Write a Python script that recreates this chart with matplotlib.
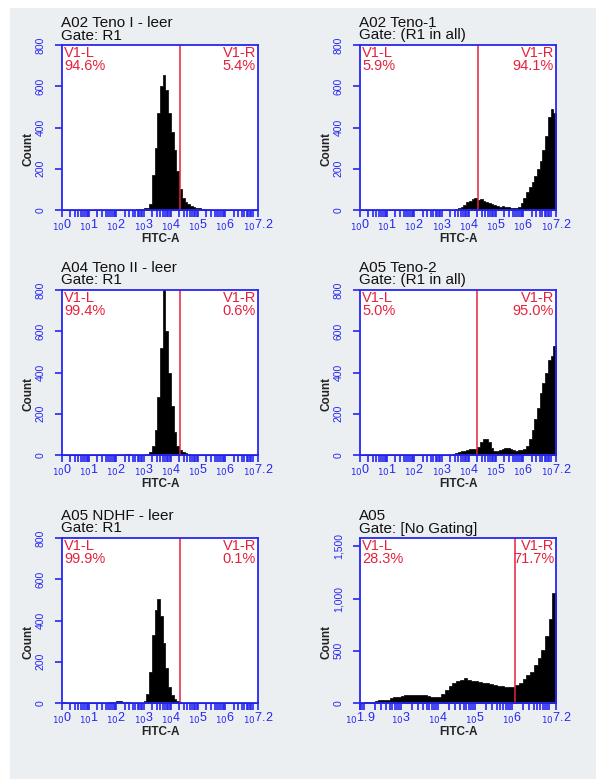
import numpy as np
import matplotlib
matplotlib.use('Agg')
import matplotlib.pyplot as plt
from matplotlib.patches import Rectangle

# ---------------- data ----------------
titles = ["A02 Teno I - leer", "A02 Teno-1", "A04 Teno II - leer",
          "A05 Teno-2", "A05 NDHF - leer", "A05"]
gate_names = ["Gate: R1", "Gate: (R1 in all)", "Gate: R1",
              "Gate: (R1 in all)", "Gate: R1", "Gate: [No Gating]"]
pct_left = ["94.6%", "5.9%", "99.4%", "5.0%", "99.9%", "28.3%"]
pct_right = ["5.4%", "94.1%", "0.6%", "95.0%", "0.1%", "71.7%"]
gate_log = [4.33, 4.32, 4.33, 4.30, 4.35, 6.08]

# counts per 0.1-decade bin, log10(FITC-A) from 0.0 to 7.2 (72 bins)
teno_i_leer = [0]*27 + [3, 4, 5, 8, 12, 30, 170, 300, 470, 600, 655, 580, 470,
                        380, 290, 190, 100, 60, 40, 28, 20, 15, 11, 9, 6, 4, 2] + [0]*18
teno_1 = [0]*35 + [3, 8, 15, 25, 38, 45, 55, 58, 50, 52, 45, 40, 35, 28, 22, 20,
                   15, 18, 14, 15, 12, 10, 8, 15, 35, 60, 85, 110, 135, 165, 200,
                   240, 290, 360, 450, 490, 470]
teno_ii_leer = [0]*23 + [3, 4, 2, 0, 0, 0, 0, 2, 5, 15, 45, 120, 280, 520, 800,
                         600, 400, 240, 110, 45, 25, 15, 10, 5, 2] + [0]*24
teno_2 = [0]*34 + [4, 12, 16, 18, 20, 24, 27, 28, 28, 40, 65, 78, 80, 62, 35, 18,
                   20, 25, 30, 32, 36, 30, 22, 20, 22, 24, 28, 45, 80, 120, 175,
                   230, 300, 350, 400, 460, 480, 530]
ndhf_leer = [3] + [0]*15 + [2, 5, 6, 7, 8, 8, 6, 4, 3, 2, 1, 0, 1, 2, 8, 45, 150,
                            330, 450, 505, 420, 290, 170, 80, 40, 20, 8, 3] + [0]*28
# no-gating panel: 0.1-decade bins from 1.9 to 7.2 (53 bins)
a05_all = [3, 6, 8, 14, 18, 24, 28, 32, 45, 55, 62, 66, 72, 75, 80, 78, 74, 72,
           66, 60, 56, 62, 85, 120, 160, 195, 215, 225, 235, 225, 215, 210, 200,
           195, 190, 180, 172, 165, 160, 155, 152, 155, 168, 195, 230, 265, 300,
           360, 430, 510, 640, 800, 1050]

series = [teno_i_leer, teno_1, teno_ii_leer, teno_2, ndhf_leer, a05_all]
x_ranges = [(0.0, 7.2)]*5 + [(1.9, 7.2)]
y_max = [800]*5 + [1580]
y_ticks = [[0, 200, 400, 600, 800]]*5 + [[0, 500, 1000, 1500]]
y_ticklabels = [["0", "200", "400", "600", "800"]]*5 + [["0", "500", "1,000", "1,500"]]
x_ticks = [[0, 1, 2, 3, 4, 5, 6, 7.2]]*5 + [[1.9, 3, 4, 5, 6, 7.2]]
x_exps = [["0", "1", "2", "3", "4", "5", "6", "7.2"]]*5 + [["1.9", "3", "4", "5", "6", "7.2"]]

# ---------------- style ----------------
BLUE = '#2626F2'
RED = '#E4223C'
BG = '#EBEFF2'
plt.rcParams['font.family'] = ['Liberation Sans', 'DejaVu Sans']

W, H = 596, 779
fig = plt.figure(figsize=(W/100, H/100), dpi=100)
fig.patch.set_facecolor('white')
fig.patches.append(Rectangle((10/W, 0), 1 - 10/W, 1 - 8/H, transform=fig.transFigure,
                             facecolor=BG, edgecolor='none', zorder=-10))

col_lr = [(62, 258), (360, 556)]
row_tb = [(45, 210), (290, 455), (538, 703)]

for idx in range(6):
    r, c = divmod(idx, 2)
    l, rr = col_lr[c]
    t, b = row_tb[r]
    ax = fig.add_axes([l/W, 1 - b/H, (rr - l)/W, (b - t)/H])
    ax.set_facecolor('white')
    x0, x1 = x_ranges[idx]
    counts = np.minimum(np.array(series[idx], dtype=float), y_max[idx])
    edges = np.round(x0 + 0.1*np.arange(len(counts) + 1), 2)
    edges[-1] = min(edges[-1], x1)
    ax.fill_between(edges, np.r_[counts, counts[-1]], 0, step='post',
                    facecolor='black', edgecolor='black', linewidth=0.5, zorder=2)
    ax.axvline(gate_log[idx], color=RED, lw=1.1, zorder=3)
    ax.set_xlim(x0, x1)
    ax.set_ylim(0, y_max[idx])
    for s in ax.spines.values():
        s.set_color(BLUE)
        s.set_linewidth(1.3)
        s.set_zorder(4)

    # x ticks
    ax.set_xticks(x_ticks[idx])
    ax.set_xticklabels([r'$_{10}$' + e for e in x_exps[idx]])
    minor = []
    for d in range(int(np.floor(x0)), int(np.ceil(x1)) + 1):
        for k in range(1, 10):
            v = d + np.log10(k)
            if x0 + 1e-6 < v < x1 - 1e-6 and all(abs(v - m) > 1e-6 for m in x_ticks[idx]):
                minor.append(v)
    ax.set_xticks(minor, minor=True)
    ax.tick_params(axis='x', which='major', direction='out', length=5, width=1.2,
                   color=BLUE, labelcolor=BLUE, labelsize=9, pad=1)
    ax.tick_params(axis='x', which='minor', direction='out', length=5, width=1.2,
                   color=BLUE)
    # y ticks
    ax.set_yticks(y_ticks[idx])
    ax.set_yticklabels(y_ticklabels[idx], rotation=90, va='center')
    ax.tick_params(axis='y', which='major', direction='out', length=5, width=1.2,
                   color=BLUE, labelcolor=BLUE, labelsize=7.5, pad=7)

    ax.set_xlabel("FITC-A", fontsize=8.5, fontweight='bold', color='#222222', labelpad=0)
    ax.text(-33/(rr - l), 0.37, "Count", transform=ax.transAxes, rotation=90,
            ha='center', va='center', fontsize=8.5, fontweight='bold', color='#222222')

    # title lines
    ax.text(-1/(rr - l), 1 + 18/(b - t), titles[idx], transform=ax.transAxes,
            ha='left', va='baseline', fontsize=11, color='#111111')
    ax.text(-1/(rr - l), 1 + 5.5/(b - t), gate_names[idx], transform=ax.transAxes,
            ha='left', va='baseline', fontsize=11, color='#111111')

    # gate labels
    ax.text(0.01, 1 - 12/(b - t), "V1-L", transform=ax.transAxes, ha='left',
            va='baseline', fontsize=10.5, color=RED, zorder=5)
    ax.text(0.01, 1 - 25/(b - t), pct_left[idx], transform=ax.transAxes, ha='left',
            va='baseline', fontsize=10.5, color=RED, zorder=5)
    ax.text(0.99, 1 - 12/(b - t), "V1-R", transform=ax.transAxes, ha='right',
            va='baseline', fontsize=10.5, color=RED, zorder=5)
    ax.text(0.99, 1 - 25/(b - t), pct_right[idx], transform=ax.transAxes, ha='right',
            va='baseline', fontsize=10.5, color=RED, zorder=5)

fig.savefig('out.png', dpi=100, facecolor=fig.get_facecolor())
